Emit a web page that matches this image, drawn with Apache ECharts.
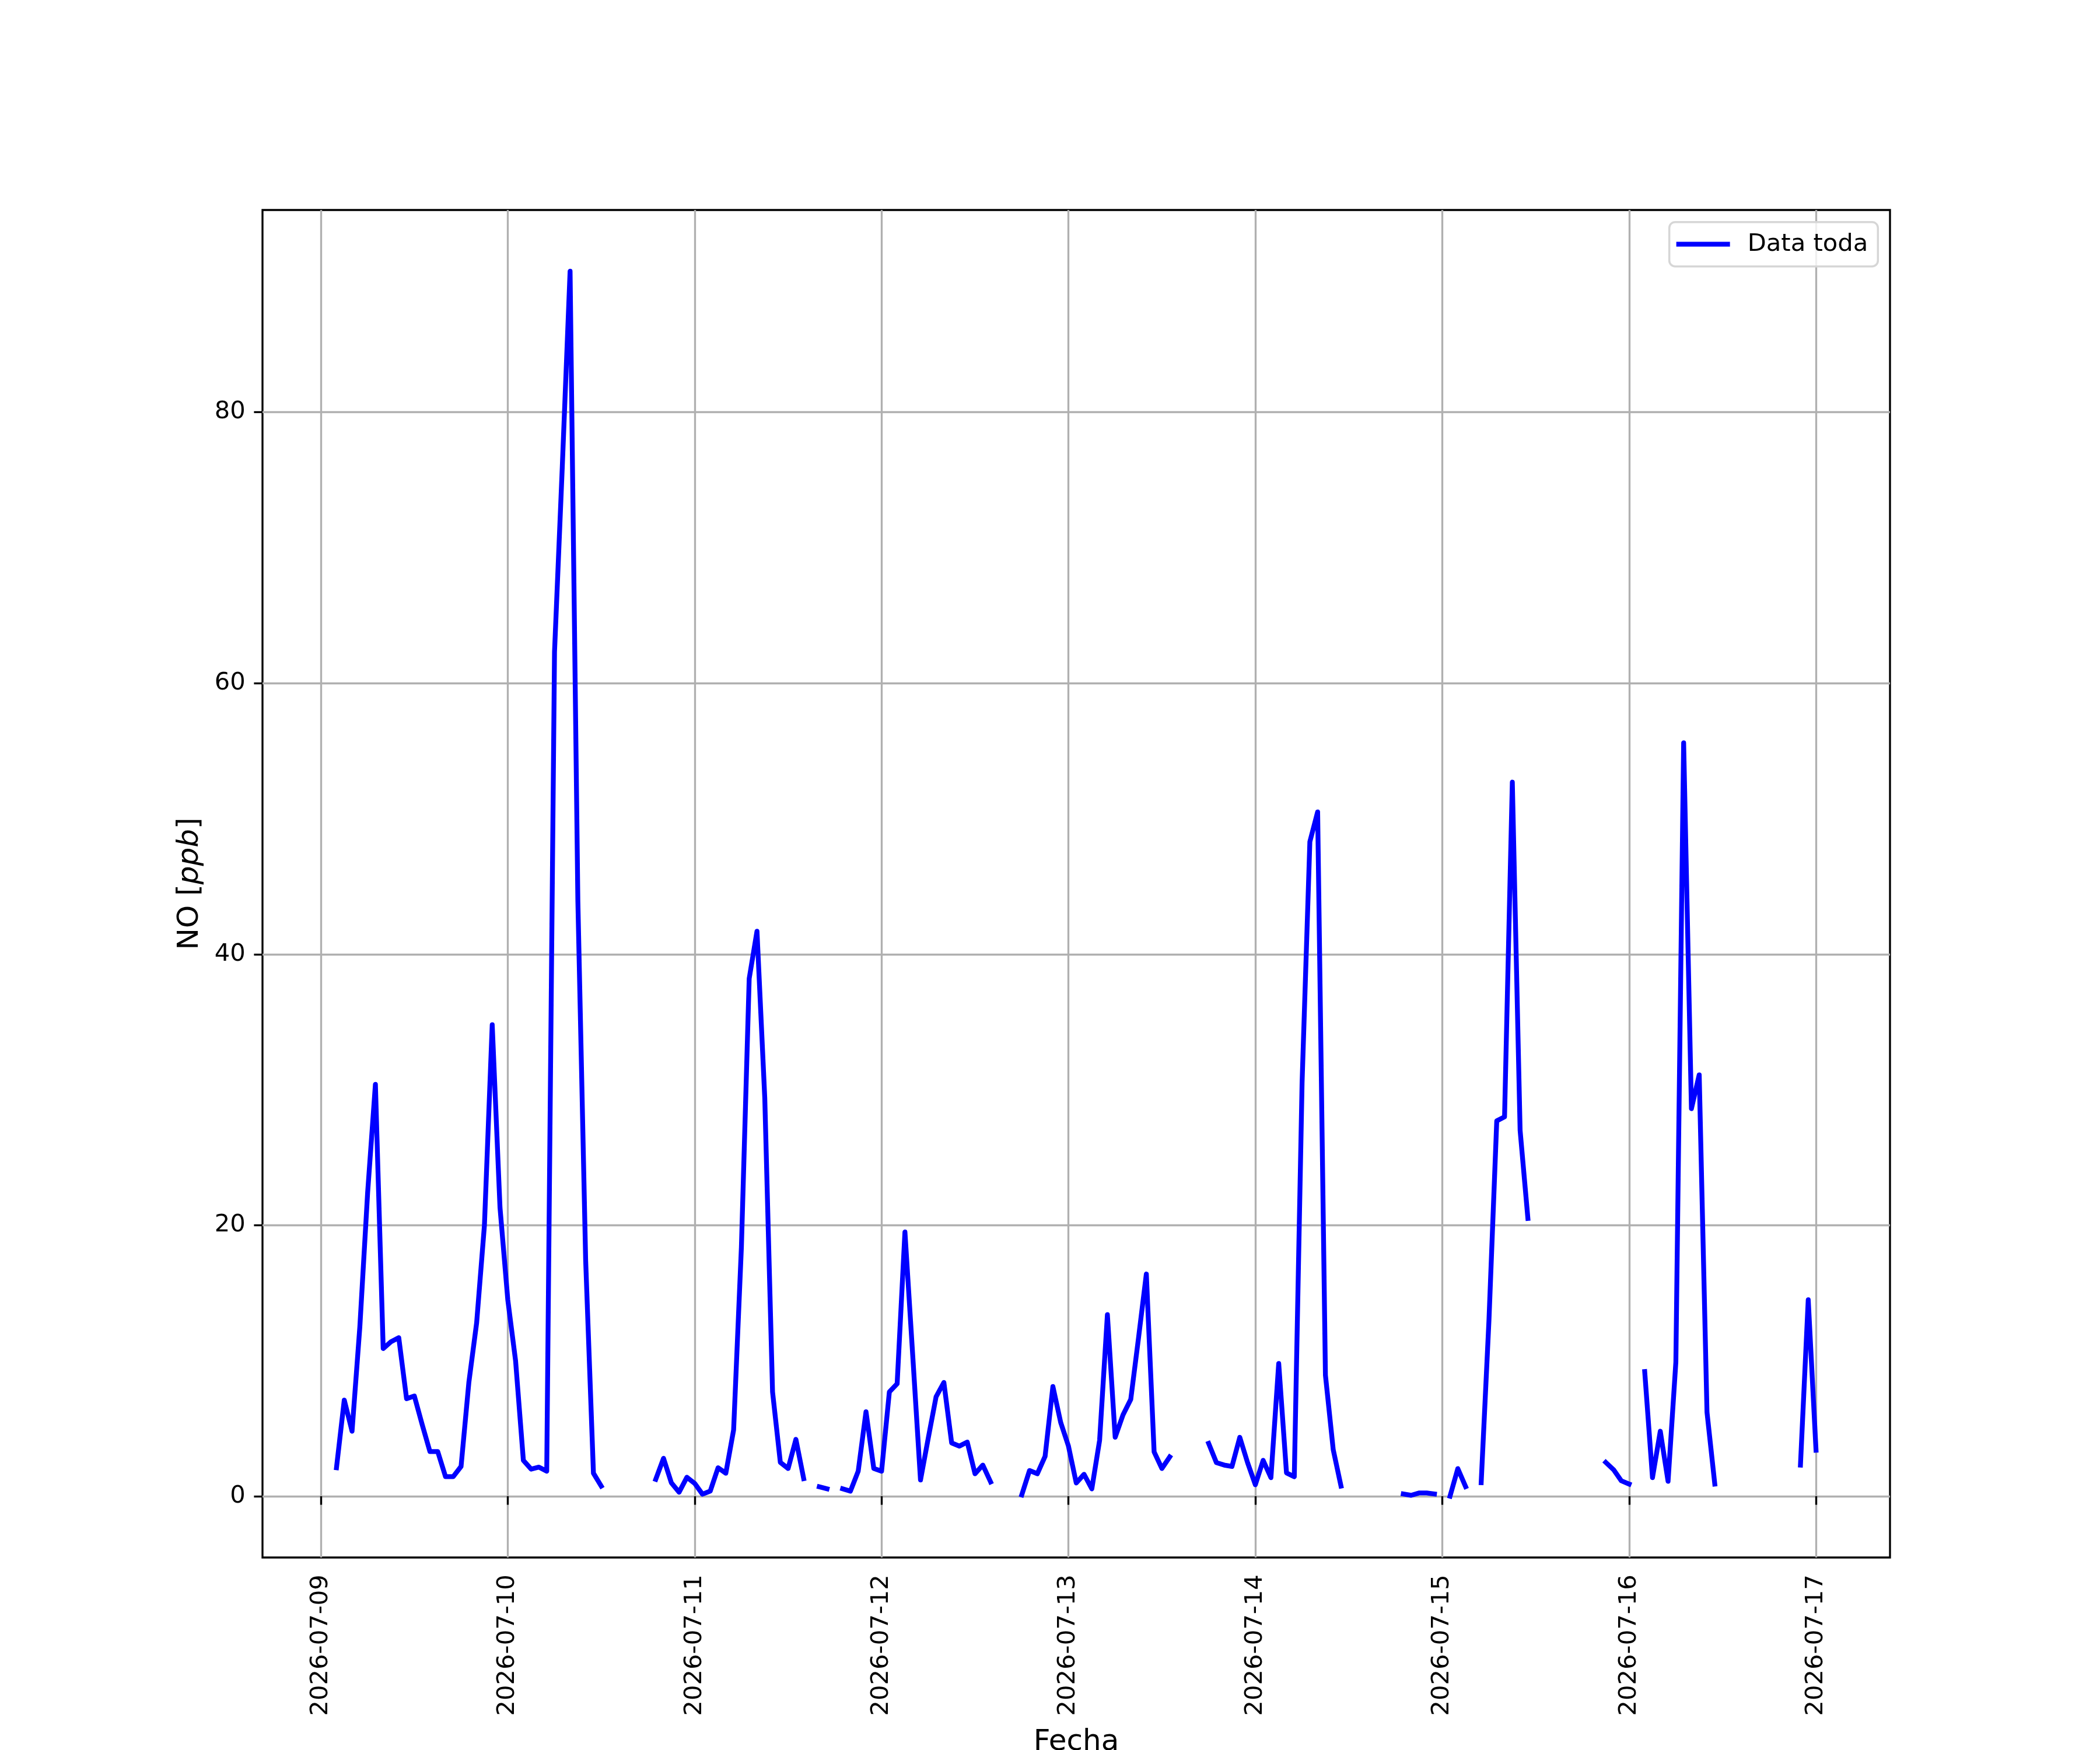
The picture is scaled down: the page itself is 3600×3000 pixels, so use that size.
<!DOCTYPE html>
<html>
<head>
<meta charset="utf-8">
<script src="https://cdn.jsdelivr.net/npm/echarts@6/dist/echarts.min.js"></script>
<style>
html,body{margin:0;padding:0;background:#ffffff;}
#chart{width:3600px;height:3000px;}
</style>
</head>
<body>
<div id="chart"></div>
<script>
// ---- data (hourly NO values, ppb; null = missing) ----
const startTime = '2026-07-09T00:00:00Z';
const xTickLabels = ['2026-07-09','2026-07-10','2026-07-11','2026-07-12','2026-07-13','2026-07-14','2026-07-15','2026-07-16','2026-07-17'];
const yTickValues = [0, 20, 40, 60, 80];
const seriesName = 'Data toda';

const no_0709 = [null, null, 2.1, 7.1, 4.8, 12.5, 22.4, 30.4, 10.9, 11.4, 11.7, 7.2, 7.4, 5.3, 3.3, 3.3, 1.45, 1.45, 2.2, 8.4, 12.8, 20.0, 34.8, 21.3];
const no_0710 = [14.5, 10.0, 2.65, 2.0, 2.15, 1.85, 62.3, 76.0, 90.4, 43.9, 17.4, 1.7, 0.75, null, null, null, null, null, null, 1.25, 2.8, 1.0, 0.3, 1.4];
const no_0711 = [0.95, 0.15, 0.38, 2.1, 1.7, 4.9, 18.4, 38.2, 41.7, 29.4, 7.7, 2.5, 2.05, 4.2, 1.3, null, 0.7, 0.55, null, 0.55, 0.38, 1.85, 6.24, 2.05];
const no_0712 = [1.85, 7.7, 8.3, 19.5, 10.4, 1.2, 4.3, 7.34, 8.4, 3.93, 3.7, 4.0, 1.66, 2.3, 1.06, null, null, null, 0.1, 1.9, 1.66, 2.95, 8.1, 5.45];
const no_0713 = [3.7, 0.98, 1.62, 0.55, 4.13, 13.4, 4.35, 6.0, 7.15, 11.7, 16.4, 3.27, 2.05, 2.9, null, null, null, null, 3.9, 2.48, 2.3, 2.2, 4.35, 2.48];
const no_0714 = [0.85, 2.65, 1.37, 9.8, 1.72, 1.44, 30.5, 48.3, 50.5, 8.93, 3.44, 0.75, null, null, null, null, null, null, null, 0.17, 0.07, 0.24, 0.24, 0.17];
const no_0715 = [null, 0.0, 2.04, 0.71, null, 1.0, 13.0, 27.7, 28.0, 52.7, 27.0, 20.5, null, null, null, null, null, null, null, null, null, 2.5, 1.96, 1.14];
const no_0716 = [0.9, null, 9.2, 1.37, 4.8, 1.1, 9.9, 55.6, 28.6, 31.1, 6.2, 0.9, null, null, null, null, null, null, null, null, null, null, 2.3, 14.5];
const no_0717 = [3.4];

// ---- build ----
const HOUR = 3600000;
const t0 = Date.parse(startTime);
const days = [no_0709, no_0710, no_0711, no_0712, no_0713, no_0714, no_0715, no_0716, no_0717];
const seriesData = [];
days.forEach(function (arr, d) {
  arr.forEach(function (v, h) {
    seriesData.push([t0 + (d * 24 + h) * HOUR, v === null ? '-' : v]);
  });
});
const xTickValues = xTickLabels.map(function (s) { return Date.parse(s + 'T00:00:00Z'); });

const FONT = 'DejaVu Sans';
const FS = 41.7;
const FS_NAME = 50;
const LW = 3.33;

const chart = echarts.init(document.getElementById('chart'), null, {renderer: 'canvas', width: 3600, height: 3000});
chart.setOption({
  animation: false,
  backgroundColor: '#ffffff',
  grid: {
    left: 450, top: 360, width: 2790, height: 2310,
    containLabel: false,
    outerBoundsMode: 'none',
    show: true,
    borderColor: '#000000',
    borderWidth: LW,
    backgroundColor: 'transparent'
  },
  legend: {
    right: 380.7, top: 380.7,
    orient: 'vertical',
    data: [seriesName],
    icon: 'rect',
    itemWidth: 92, itemHeight: 8.3,
    padding: [14, 17, 14, 12],
    backgroundColor: 'rgba(255,255,255,0.8)',
    borderColor: '#d6d6d6',
    borderWidth: 3.5,
    borderRadius: 10,
    textStyle: {
      fontFamily: FONT, fontSize: FS, color: '#000000',
      lineHeight: 48,
      padding: [0, 0, 0, 25]
    }
  },
  xAxis: {
    type: 'value',
    min: t0 - 7.5 * HOUR,
    max: t0 + 201.5 * HOUR,
    name: 'Fecha',
    nameLocation: 'middle',
    nameGap: 292,
    nameTextStyle: {fontFamily: FONT, fontSize: FS_NAME, color: '#000000'},
    axisLine: {show: false},
    axisTick: {
      show: true, inside: false, length: 14.6,
      lineStyle: {color: '#000000', width: LW},
      customValues: xTickValues
    },
    axisLabel: {
      show: true,
      rotate: 90,
      margin: 29.2,
      fontFamily: FONT, fontSize: FS, color: '#000000',
      customValues: xTickValues,
      formatter: function (v) {
        const i = xTickValues.indexOf(v);
        return i >= 0 ? xTickLabels[i] : '';
      }
    },
    splitLine: {show: true, lineStyle: {color: '#b0b0b0', width: LW}}
  },
  yAxis: {
    type: 'value',
    min: -4.52,
    max: 94.92,
    name: 'NO [{i|ppb}]',
    nameLocation: 'middle',
    nameRotate: 90,
    nameGap: 99,
    nameTextStyle: {
      fontFamily: FONT, fontSize: FS_NAME, color: '#000000',
      rich: {i: {fontFamily: FONT, fontSize: FS_NAME, fontStyle: 'italic', color: '#000000'}}
    },
    axisLine: {show: false},
    axisTick: {
      show: true, inside: false, length: 14.6,
      lineStyle: {color: '#000000', width: LW},
      customValues: yTickValues
    },
    axisLabel: {
      show: true,
      margin: 29.2,
      fontFamily: FONT, fontSize: FS, color: '#000000',
      customValues: yTickValues
    },
    splitLine: {show: true, lineStyle: {color: '#b0b0b0', width: LW}}
  },
  series: [{
    name: seriesName,
    type: 'line',
    data: seriesData,
    showSymbol: false,
    connectNulls: false,
    clip: true,
    lineStyle: {color: '#0000ff', width: 8.3, cap: 'square', join: 'round'},
    itemStyle: {color: '#0000ff'},
    emphasis: {disabled: true}
  }]
});
</script>
</body>
</html>
